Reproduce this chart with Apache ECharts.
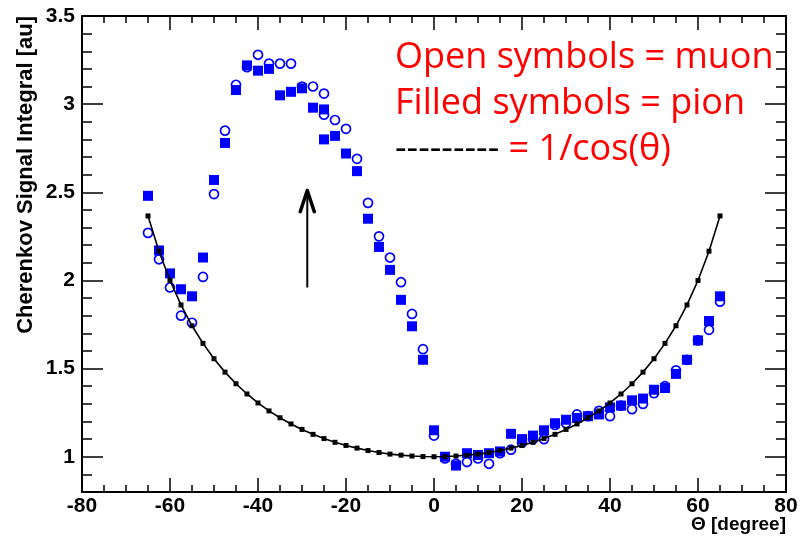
<!DOCTYPE html>
<html>
<head>
<meta charset="utf-8">
<script src="https://cdn.jsdelivr.net/npm/echarts@6/dist/echarts.min.js"></script>
<style>
  html, body { margin: 0; padding: 0; background: #ffffff; }
  #chart { width: 800px; height: 544px; }
</style>
</head>
<body>
<div id="chart"></div>
<script>
// Reference curve 1/cos(theta), sampled every 2.5 degrees
const curveTheta = [-65, -62.5, -60, -57.5, -55, -52.5, -50, -47.5, -45, -42.5, -40, -37.5, -35, -32.5, -30, -27.5, -25, -22.5, -20, -17.5, -15, -12.5, -10, -7.5, -5, -2.5,
  0, 2.5, 5, 7.5, 10, 12.5, 15, 17.5, 20, 22.5, 25, 27.5, 30, 32.5, 35, 37.5, 40, 42.5, 45, 47.5, 50, 52.5, 55, 57.5, 60, 62.5, 65];
const curveSignal = [2.366, 2.166, 2.000, 1.861, 1.743, 1.643, 1.556, 1.480, 1.414, 1.356, 1.305, 1.260, 1.221, 1.186, 1.155, 1.127, 1.103, 1.082, 1.064, 1.049, 1.035, 1.024, 1.015, 1.009, 1.004, 1.001,
  1.000, 1.001, 1.004, 1.009, 1.015, 1.024, 1.035, 1.049, 1.064, 1.082, 1.103, 1.127, 1.155, 1.186, 1.221, 1.260, 1.305, 1.356, 1.414, 1.480, 1.556, 1.643, 1.743, 1.861, 2.000, 2.166, 2.366];

// Muon scan (open symbols)
const muonTheta = [-65, -62.5, -60, -57.5, -55, -52.5, -50, -47.5, -45, -42.5, -40, -37.5, -35, -32.5, -30, -27.5, -25, -25, -22.5, -20, -17.5, -15, -12.5, -10, -7.5, -5, -2.5,
  0, 2.5, 5, 7.5, 10, 12.5, 15, 17.5, 20, 22.5, 25, 27.5, 30, 32.5, 35, 37.5, 40, 42.5, 45, 47.5, 50, 52.5, 55, 57.5, 60, 62.5, 65];
const muonSignal = [2.27, 2.12, 1.96, 1.80, 1.76, 2.02, 2.49, 2.85, 3.11, 3.21, 3.28, 3.23, 3.23, 3.23, 3.10, 3.10, 3.06, 2.94, 2.91, 2.86, 2.69, 2.44, 2.25, 2.13, 1.99, 1.81, 1.61,
  1.12, 0.99, 0.96, 0.97, 0.99, 0.96, 1.02, 1.04, 1.08, 1.10, 1.10, 1.18, 1.19, 1.24, 1.23, 1.26, 1.23, 1.29, 1.27, 1.30, 1.36, 1.40, 1.49, 1.55, 1.66, 1.72, 1.88];

// Pion scan (filled symbols)
const pionTheta = [-65, -62.5, -60, -57.5, -55, -52.5, -50, -47.5, -45, -42.5, -40, -37.5, -35, -32.5, -30, -27.5, -25, -25, -22.5, -20, -17.5, -15, -12.5, -10, -7.5, -5, -2.5,
  0, 2.5, 5, 7.5, 10, 12.5, 15, 17.5, 20, 22.5, 25, 27.5, 30, 32.5, 35, 37.5, 40, 42.5, 45, 47.5, 50, 52.5, 55, 57.5, 60, 62.5, 65];
const pionSignal = [2.48, 2.17, 2.04, 1.95, 1.91, 2.13, 2.57, 2.78, 3.08, 3.22, 3.19, 3.20, 3.05, 3.07, 3.09, 2.98, 2.97, 2.80, 2.82, 2.72, 2.62, 2.35, 2.19, 2.06, 1.89, 1.74, 1.55,
  1.15, 1.00, 0.95, 1.02, 1.01, 1.02, 1.03, 1.13, 1.10, 1.12, 1.15, 1.19, 1.21, 1.22, 1.23, 1.24, 1.28, 1.29, 1.32, 1.33, 1.38, 1.39, 1.47, 1.55, 1.66, 1.77, 1.91];

// Arrow marking the region of enhanced signal
const arrowShaftTheta = [-28.8, -28.8];
const arrowShaftSignal = [1.96, 2.50];
const arrowHeadTheta = [-30.4, -28.8, -27.2];
const arrowHeadSignal = [2.39, 2.51, 2.39];

// Axis ranges and tick labels
const thetaRange = [-80, 80];
const signalRange = [0.8, 3.5];
const yTickLabels = ['1', '1.5', '2', '2.5', '3', '3.5'];

const legendLines = ['Open symbols = muon', 'Filled symbols = pion'];
const curveLegendDash = '---------';
const curveLegendText = ' = 1/cos(\u03b8)';

const pair = (xs, ys) => xs.map((x, i) => [x, ys[i]]);
const LABEL_FONT = '"Liberation Sans", Arial, Helvetica, sans-serif';
const TEXT_FONT = '"Open Sans", "Noto Sans", sans-serif';
const BLACK = '#000000';
const BLUE = '#0000ff';
const RED = '#ff0000';

function xFrameAxis(position, showLabel) {
  return {
    type: 'value', position: position, min: thetaRange[0], max: thetaRange[1], interval: 20,
    axisLine: { show: true, onZero: false, lineStyle: { color: BLACK, width: 2 } },
    axisTick: { show: true, inside: true, length: 14, lineStyle: { color: BLACK, width: 1.5 } },
    minorTick: { show: true, splitNumber: 4, length: 7, lineStyle: { color: BLACK, width: 1.5 } },
    axisLabel: {
      show: showLabel, margin: 4, color: BLACK, fontFamily: LABEL_FONT, fontWeight: 'bold', fontSize: 21,
      showMinLabel: true, showMaxLabel: true
    },
    splitLine: { show: false }, minorSplitLine: { show: false }
  };
}

// fine ticks every 0.1
function yMinorAxis(position) {
  return {
    type: 'value', position: position, min: signalRange[0], max: signalRange[1], interval: 0.1,
    axisLine: { show: true, onZero: false, lineStyle: { color: BLACK, width: 2 } },
    axisTick: { show: true, inside: true, length: 10, lineStyle: { color: BLACK, width: 1.5 } },
    axisLabel: { show: false },
    splitLine: { show: false }
  };
}

// major ticks every 0.5 (nice ticks, not anchored at min)
function yMajorAxis(position, showLabel) {
  return {
    type: 'value', position: position, min: signalRange[0], max: signalRange[1], splitNumber: 5,
    axisLine: { show: false, onZero: false },
    axisTick: { show: true, inside: true, length: 21, lineStyle: { color: BLACK, width: 1.5 } },
    axisLabel: {
      show: showLabel, margin: 7, color: BLACK, fontFamily: LABEL_FONT, fontWeight: 'bold', fontSize: 21,
      formatter: function (v) {
        const s = String(+(+v).toFixed(1));
        return yTickLabels.indexOf(s) >= 0 ? s : '';
      }
    },
    splitLine: { show: false }
  };
}

const chart = echarts.init(document.getElementById('chart'), null, { renderer: 'canvas' });

chart.setOption({
  animation: false,
  backgroundColor: '#ffffff',
  grid: { left: 82, right: 14, top: 16, bottom: 52, containLabel: false, outerBoundsMode: 'none' },
  xAxis: [xFrameAxis('bottom', true), xFrameAxis('top', false)],
  yAxis: [yMinorAxis('left'), yMajorAxis('left', true), yMinorAxis('right'), yMajorAxis('right', false)],
  series: [
    {
      name: 'muon', type: 'scatter', xAxisIndex: 0, yAxisIndex: 0,
      data: pair(muonTheta, muonSignal),
      symbol: 'circle', symbolSize: 9,
      itemStyle: { color: 'rgba(0,0,0,0)', borderColor: BLUE, borderWidth: 1.7, opacity: 1 },
      z: 2
    },
    {
      name: 'pion', type: 'scatter', xAxisIndex: 0, yAxisIndex: 0,
      data: pair(pionTheta, pionSignal),
      symbol: 'rect', symbolSize: 10,
      itemStyle: { color: BLUE, opacity: 1 },
      z: 3
    },
    {
      name: '1/cos', type: 'line', xAxisIndex: 0, yAxisIndex: 0,
      data: pair(curveTheta, curveSignal),
      showSymbol: true, symbol: 'rect', symbolSize: 5,
      itemStyle: { color: BLACK, opacity: 1 },
      lineStyle: { color: BLACK, width: 1.6 },
      z: 4
    },
    {
      name: 'arrowShaft', type: 'line', xAxisIndex: 0, yAxisIndex: 0, silent: true,
      data: pair(arrowShaftTheta, arrowShaftSignal),
      showSymbol: false, lineStyle: { color: BLACK, width: 2 }, z: 5
    },
    {
      name: 'arrowHead', type: 'line', xAxisIndex: 0, yAxisIndex: 0, silent: true,
      data: pair(arrowHeadTheta, arrowHeadSignal),
      showSymbol: false, lineStyle: { color: BLACK, width: 3.5, cap: 'round', join: 'round' }, z: 5
    }
  ],
  graphic: [
    {
      type: 'text', x: 395, y: 58,
      style: { text: legendLines[0], fill: RED, font: '36px ' + TEXT_FONT, textAlign: 'left', textVerticalAlign: 'middle' }
    },
    {
      type: 'text', x: 395, y: 104,
      style: { text: legendLines[1], fill: RED, font: '36px ' + TEXT_FONT, textAlign: 'left', textVerticalAlign: 'middle' }
    },
    {
      type: 'text', x: 395, y: 150,
      style: {
        text: '{k|' + curveLegendDash + '}{r|' + curveLegendText + '}',
        font: '36px ' + TEXT_FONT, textAlign: 'left', textVerticalAlign: 'middle',
        rich: {
          k: { fill: BLACK, color: BLACK, font: '36px ' + TEXT_FONT },
          r: { fill: RED, color: RED, font: '36px ' + TEXT_FONT }
        }
      }
    },
    {
      type: 'text', x: 26, y: 16, rotation: Math.PI / 2,
      style: { text: 'Cherenkov Signal Integral [au]', fill: BLACK, font: 'bold 22px ' + LABEL_FONT, textAlign: 'right', textVerticalAlign: 'middle' }
    },
    {
      type: 'text', x: 786, y: 525,
      style: { text: '\u0398 [degree]', fill: BLACK, font: 'bold 19px ' + LABEL_FONT, textAlign: 'right', textVerticalAlign: 'middle' }
    }
  ]
});
</script>
</body>
</html>
